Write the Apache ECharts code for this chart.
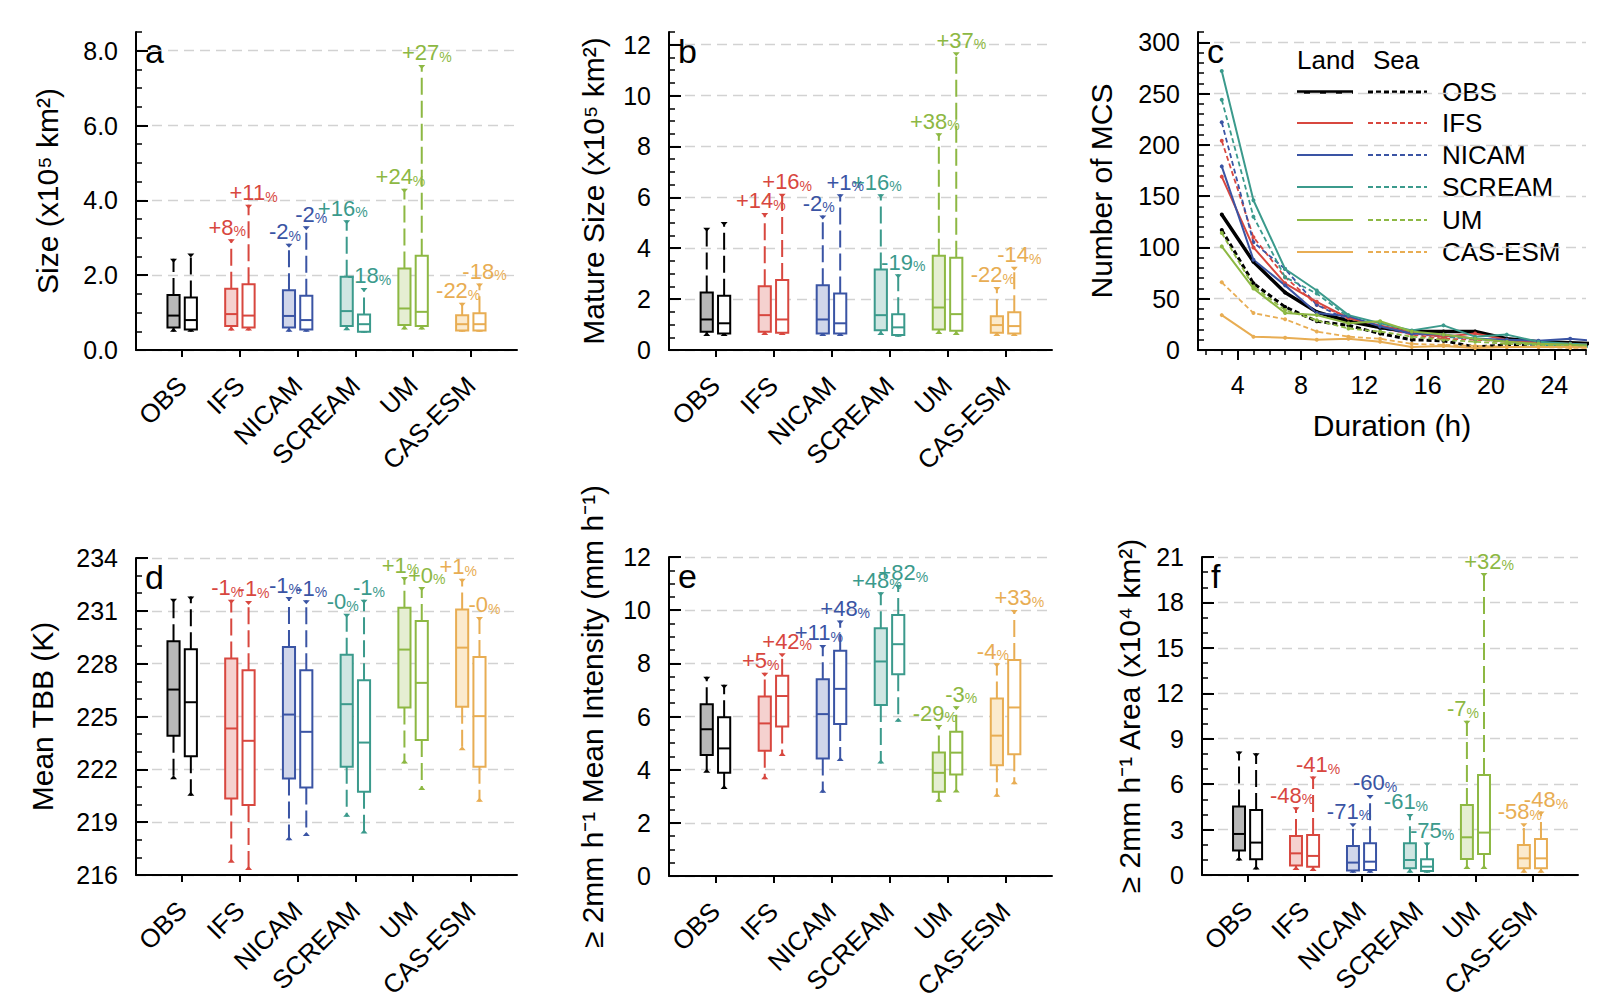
<!DOCTYPE html>
<html>
<head>
<meta charset="utf-8">
<script src="https://cdn.jsdelivr.net/npm/echarts@6/dist/echarts.min.js"></script>
<style>
  html, body { margin: 0; padding: 0; background: #fff; }
  #main { width: 1622px; height: 1008px; }
</style>
</head>
<body>
<div id="main"></div>
<script>
const models = ['OBS', 'IFS', 'NICAM', 'SCREAM', 'UM', 'CAS-ESM'];
const colors = ['#000000', '#d8473f', '#3a54a4', '#3b9a8c', '#8db843', '#e8ad53'];
const landFills = ['#b8b8b8', '#f5d1cf', '#d0d6ea', '#cfe6e2', '#e5eed2', '#fbeacd'];

// box values: [min, q1, median, q3, max]
const sizeLand = [[0.49,0.60,0.92,1.47,2.44],[0.52,0.64,0.96,1.64,2.96],[0.49,0.60,0.91,1.60,2.84],[0.53,0.64,1.04,1.96,3.47],[0.55,0.67,1.11,2.18,4.31],[0.49,0.52,0.69,0.93,1.26]];
const sizeSea = [[0.49,0.55,0.80,1.40,2.58],[0.52,0.60,0.92,1.76,3.88],[0.49,0.55,0.80,1.45,3.31],[0.46,0.49,0.69,0.95,1.66],[0.55,0.64,1.02,2.52,7.62],[0.49,0.52,0.69,0.98,1.78]];
const sizeLandPct = [null,'+8','-2','+16','+24','-22'];
const sizeSeaPct = [null,'+11','-2','-18','+27','-18'];

const matLand = [[0.55,0.72,1.20,2.26,4.81],[0.59,0.72,1.37,2.51,5.39],[0.55,0.65,1.20,2.55,5.29],[0.59,0.78,1.37,3.16,6.12],[0.63,0.81,1.67,3.70,8.52],[0.55,0.68,0.98,1.33,2.48]];
const matSea = [[0.55,0.65,1.05,2.13,5.03],[0.59,0.68,1.20,2.75,6.14],[0.55,0.65,1.05,2.22,6.12],[0.52,0.59,0.89,1.41,2.98],[0.59,0.76,1.41,3.63,11.70],[0.55,0.65,0.94,1.48,3.27]];
const matLandPct = [null,'+14','-2','+16','+38','-22'];
const matSeaPct = [null,'+16','+1','-19','+37','-14'];

const tbbLand = [[221.43,223.90,226.53,229.27,231.69],[216.70,220.35,224.32,228.29,231.63],[217.98,221.48,225.11,228.95,231.78],[219.31,222.14,225.70,228.51,230.84],[222.33,225.51,228.80,231.18,232.92],[223.09,225.55,228.91,231.08,232.82]];
const tbbSea = [[220.50,222.75,225.81,228.82,231.82],[216.28,219.97,223.62,227.63,231.56],[218.21,220.97,224.13,227.63,231.60],[218.36,220.73,223.52,227.06,231.63],[220.82,223.66,226.91,230.42,232.35],[220.16,222.14,225.02,228.38,230.65]];
const tbbLandPct = [null,'-1','-1','-0','+1','+1'];
const tbbSeaPct = [null,'-1','-1','-1','+0','-0'];

const intLand = [[3.88,4.55,5.52,6.46,7.50],[3.64,4.71,5.74,6.75,7.65],[3.13,4.42,6.09,7.40,8.69],[4.23,6.43,8.07,9.32,10.67],[2.79,3.17,3.88,4.65,5.68],[2.98,4.17,5.28,6.68,8.00]];
const intSea = [[3.27,3.88,4.80,5.97,7.19],[4.51,5.62,6.77,7.53,8.38],[4.33,5.72,7.04,8.47,9.61],[5.80,7.59,8.72,9.82,10.95],[3.14,3.82,4.64,5.43,6.39],[3.45,4.58,6.34,8.13,10.01]];
const intLandPct = [null,'+5','+11','+48','-29','-4'];
const intSeaPct = [null,'+42','+48','+82','-3','+33'];

const areaLand = [[0.95,1.61,2.71,4.52,8.15],[0.33,0.62,1.43,2.58,4.47],[0.15,0.29,0.82,1.92,3.42],[0.15,0.44,0.99,2.09,4.03],[0.40,1.06,2.49,4.63,10.18],[0.15,0.44,1.10,1.98,3.42]];
const areaSea = [[0.37,1.04,2.14,4.30,8.04],[0.26,0.55,1.26,2.64,6.50],[0.15,0.33,0.88,2.09,5.29],[0.15,0.26,0.55,1.04,2.14],[0.40,1.39,2.80,6.61,19.94],[0.15,0.44,1.10,2.38,4.19]];
const areaLandPct = [null,'-48','-71','-61','-7','-58'];
const areaSeaPct = [null,'-41','-60','-75','+32','-48'];

// panel c: number of MCS by duration
const durations = [3,5,7,9,11,13,15,17,19,21,23,25,27];
const countLand = [
  [132,86,56,37,28,22,18,18,18,11,8,7,6],
  [169,100,65,47,31,24,17,13,16,10,7,6,5],
  [179,88,63,36,33,23,16,15,11,10,9,11,8],
  [272,146,79,58,34,26,19,24,13,15,8,6,5],
  [101,60,36,34,26,28,18,15,11,8,6,5,4],
  [34,13,12,10,11,8,3,4,2,3,3,3,2]
];
const countSea = [
  [117,65,42,28,24,16,10,9,3,5,6,6,5],
  [204,110,71,44,32,22,15,11,10,8,6,5,4],
  [222,105,79,44,29,21,16,13,11,9,8,6,5],
  [244,130,71,55,32,23,18,13,11,8,5,3,3],
  [114,62,39,29,21,18,13,10,8,6,5,4,4],
  [66,36,30,18,13,11,6,5,4,3,3,2,2]
];

const sizeTicks = [0,2,4,6,8];
const matTicks = [0,2,4,6,8,10,12];
const countTicks = [0,50,100,150,200,250,300];
const durTicks = [4,8,12,16,20,24];
const tbbTicks = [216,219,222,225,228,231,234];
const intTicks = [0,2,4,6,8,10,12];
const areaTicks = [0,3,6,9,12,15,18,21];

const FONT = 'Liberation Sans';

const grids = [
  {left: 136, top: 32, width: 381, height: 318},
  {left: 669, top: 32, width: 383, height: 318},
  {left: 1198, top: 32, width: 388, height: 318},
  {left: 136, top: 558, width: 381, height: 317},
  {left: 669, top: 557, width: 383, height: 319},
  {left: 1202, top: 557, width: 376, height: 318}
];

function steps(min, max, step) {
  const out = [];
  for (let v = min; v <= max + 1e-9; v += step) out.push(Math.round(v * 100) / 100);
  return out;
}

const xAxes = [];
const yAxes = [];
const series = [];

function splitLineStyle() {
  return {show: true, lineStyle: {color: '#d2d2d2', width: 1.3, type: [10, 6]}};
}

function addYAxes(gi, min, max, ticks, minorStep, digits, name, nameGap) {
  yAxes.push({
    type: 'value', gridIndex: gi, position: 'left', min: min, max: max,
    name: name, nameLocation: 'middle', nameGap: nameGap,
    nameTextStyle: {fontSize: 30, color: '#000', fontFamily: FONT},
    axisLine: {show: true, lineStyle: {color: '#000', width: 2}},
    axisTick: {show: true, inside: true, length: 12, customValues: ticks, lineStyle: {color: '#000', width: 2}},
    axisLabel: {show: true, customValues: ticks, margin: 18, fontSize: 25, color: '#000', fontFamily: FONT,
      formatter: v => Number(v).toFixed(digits)},
    splitLine: splitLineStyle()
  });
  const main = yAxes.length - 1;
  yAxes.push({
    type: 'value', gridIndex: gi, position: 'left', min: min, max: max,
    axisLine: {show: false},
    axisTick: {show: true, inside: true, length: 6, customValues: steps(min, max, minorStep), lineStyle: {color: '#000', width: 1.5}},
    axisLabel: {show: false}, splitLine: {show: false}
  });
  return main;
}

function boxRenderer(pct, sea) {
  return function (params, api) {
    const ci = params.dataIndex;
    const xv = api.value(0);
    const pMin = api.coord([xv, api.value(1)]);
    const pQ1 = api.coord([xv, api.value(2)]);
    const pMed = api.coord([xv, api.value(3)]);
    const pQ3 = api.coord([xv, api.value(4)]);
    const pMax = api.coord([xv, api.value(5)]);
    const hw = api.size([0.21, 0])[0] / 2;
    const cx = pMin[0];
    const col = colors[ci];
    const children = [
      {type: 'line', shape: {x1: cx, y1: pQ3[1], x2: cx, y2: pMax[1]}, style: {stroke: col, lineWidth: 2, lineDash: [17, 6]}},
      {type: 'line', shape: {x1: cx, y1: pQ1[1], x2: cx, y2: pMin[1]}, style: {stroke: col, lineWidth: 2, lineDash: [17, 6]}},
      {type: 'polygon', shape: {points: [[cx - 3.5, pMax[1]], [cx + 3.5, pMax[1]], [cx, pMax[1] + 4]]}, style: {fill: col}},
      {type: 'polygon', shape: {points: [[cx - 3.5, pMin[1]], [cx + 3.5, pMin[1]], [cx, pMin[1] - 4]]}, style: {fill: col}},
      {type: 'rect', shape: {x: cx - hw, y: pQ3[1], width: 2 * hw, height: pQ1[1] - pQ3[1]},
        style: {fill: sea ? '#ffffff' : landFills[ci], stroke: col, lineWidth: 2}},
      {type: 'line', shape: {x1: cx - hw, y1: pMed[1], x2: cx + hw, y2: pMed[1]}, style: {stroke: col, lineWidth: 2}}
    ];
    if (pct[ci]) {
      children.push({
        type: 'text', x: cx + (sea ? 5 : -4), y: pMax[1] - 1,
        style: {
          text: '{a|' + pct[ci] + '}{b|%}', align: 'center', verticalAlign: 'bottom', fill: col,
          rich: {
            a: {fontSize: 22, fontFamily: FONT, fill: col, verticalAlign: 'bottom'},
            b: {fontSize: 14, fontFamily: FONT, fill: col, verticalAlign: 'bottom'}
          }
        }
      });
    }
    return {type: 'group', children: children};
  };
}

function boxPanel(gi, land, sea, landPct, seaPct, min, max, ticks, minorStep, digits, name, nameGap) {
  xAxes.push({
    type: 'value', gridIndex: gi, position: 'bottom', min: 0.2, max: 6.8,
    axisLine: {show: true, lineStyle: {color: '#000', width: 2}},
    axisTick: {show: true, length: 7, customValues: [1, 2, 3, 4, 5, 6], lineStyle: {color: '#000', width: 2}},
    axisLabel: {show: true, customValues: [1, 2, 3, 4, 5, 6], rotate: 45, margin: 31, fontSize: 26, color: '#000', fontFamily: FONT,
      formatter: v => models[Math.round(v) - 1]},
    splitLine: {show: false}
  });
  const xi = xAxes.length - 1;
  const yi = addYAxes(gi, min, max, ticks, minorStep, digits, name, nameGap);
  [[land, landPct, 0, -0.15], [sea, seaPct, 1, 0.15]].forEach(([arr, pct, isSea, off]) => {
    series.push({
      type: 'custom', xAxisIndex: xi, yAxisIndex: yi, clip: false,
      renderItem: boxRenderer(pct, isSea),
      encode: {x: 0, y: [1, 2, 3, 4, 5]},
      data: arr.map((b, i) => [i + 1 + off].concat(b))
    });
  });
}

boxPanel(0, sizeLand, sizeSea, sizeLandPct, sizeSeaPct, 0, 8.5, sizeTicks, 0.5, 1, 'Size (x10\u2075 km\u00b2)', 74);
boxPanel(1, matLand, matSea, matLandPct, matSeaPct, 0, 12.5, matTicks, 0.5, 0, 'Mature Size (x10\u2075 km\u00b2)', 61);
boxPanel(3, tbbLand, tbbSea, tbbLandPct, tbbSeaPct, 216, 234, tbbTicks, 1, 0, 'Mean TBB (K)', 79);
boxPanel(4, intLand, intSea, intLandPct, intSeaPct, 0, 12, intTicks, 0.5, 0, '\u2265 2mm h\u207b\u00b9 Mean Intensity (mm h\u207b\u00b9)', 62);
boxPanel(5, areaLand, areaSea, areaLandPct, areaSeaPct, 0, 21, areaTicks, 1, 0, '\u2265 2mm h\u207b\u00b9 Area (x10\u2074 km\u00b2)', 58);

// panel c
xAxes.push({
  type: 'value', gridIndex: 2, position: 'bottom', min: 1.5, max: 26,
  name: 'Duration (h)', nameLocation: 'middle', nameGap: 60,
  nameTextStyle: {fontSize: 30, color: '#000', fontFamily: FONT},
  axisLine: {show: true, lineStyle: {color: '#000', width: 2}},
  axisTick: {show: true, length: 10, customValues: durTicks, lineStyle: {color: '#000', width: 2}},
  axisLabel: {show: true, customValues: durTicks, margin: 22, fontSize: 25, color: '#000', fontFamily: FONT},
  splitLine: {show: false}
});
const cxi = xAxes.length - 1;
xAxes.push({
  type: 'value', gridIndex: 2, position: 'bottom', min: 1.5, max: 26,
  axisLine: {show: false},
  axisTick: {show: true, length: 5, customValues: steps(2, 26, 1), lineStyle: {color: '#000', width: 1.5}},
  axisLabel: {show: false}, splitLine: {show: false}
});
const cyi = addYAxes(2, 0, 310, countTicks, 10, 0, 'Number of MCS', 82);

function lineSeries(vals, ci, sea) {
  const w = ci === 0 ? 3.5 : 2;
  return {
    type: 'line', xAxisIndex: cxi, yAxisIndex: cyi, clip: true,
    data: vals.map((v, i) => [durations[i], v]),
    symbol: 'circle', symbolSize: 4,
    itemStyle: {color: colors[ci]},
    lineStyle: {color: colors[ci], width: sea ? (ci === 0 ? 3 : 1.8) : w, type: sea ? [5, 3] : 'solid'},
    z: sea ? 3 : 4
  };
}
countLand.forEach((v, i) => series.push(lineSeries(v, i, false)));
countSea.forEach((v, i) => series.push(lineSeries(v, i, true)));

// legend of panel c and panel letters
const graphics = [];
const legendRows = [92, 123, 155, 187, 220, 252];
graphics.push({type: 'text', x: 1297, y: 60, style: {text: 'Land', font: '26px ' + FONT, fill: '#000', verticalAlign: 'middle'}});
graphics.push({type: 'text', x: 1373, y: 60, style: {text: 'Sea', font: '26px ' + FONT, fill: '#000', verticalAlign: 'middle'}});
models.forEach((m, i) => {
  const y = legendRows[i];
  const w = i === 0 ? 3.5 : 2;
  graphics.push({type: 'line', shape: {x1: 1297, y1: y, x2: 1353, y2: y}, style: {stroke: colors[i], lineWidth: w}});
  graphics.push({type: 'line', shape: {x1: 1368, y1: y, x2: 1427, y2: y}, style: {stroke: colors[i], lineWidth: i === 0 ? 3 : 1.8, lineDash: [5, 3]}});
  graphics.push({type: 'text', x: 1442, y: y, style: {text: m, font: '26px ' + FONT, fill: '#000', verticalAlign: 'middle'}});
});
['a', 'b', 'c', 'd', 'e', 'f'].forEach((l, i) => {
  graphics.push({type: 'text', x: grids[i].left + 9, y: grids[i].top + 2,
    style: {text: l, font: '34px ' + FONT, fill: '#000', verticalAlign: 'top'}});
});

const chart = echarts.init(document.getElementById('main'), null, {renderer: 'svg'});
chart.setOption({
  animation: false,
  backgroundColor: '#ffffff',
  textStyle: {fontFamily: FONT, color: '#000'},
  grid: grids,
  xAxis: xAxes,
  yAxis: yAxes,
  series: series,
  graphic: graphics
});
</script>
</body>
</html>
